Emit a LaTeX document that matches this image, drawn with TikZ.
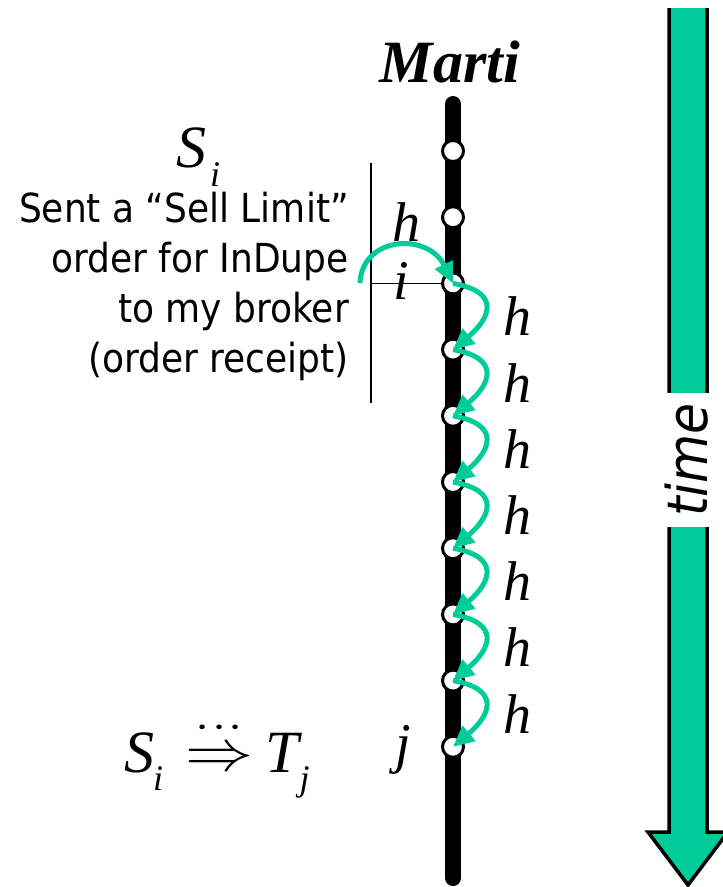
\documentclass[tikz,border=0pt]{standalone}
\usepackage{amsmath}
\usepackage{graphicx}
\usepackage{fontspec}
\usepackage{tikz}
\usetikzlibrary{positioning,arrows.meta,calc}
\newfontfamily\tnr{Liberation Serif}
\newfontfamily\tah{DejaVu Sans Condensed}
\definecolor{ink}   {HTML}{000000}
\definecolor{jade}  {HTML}{00CC99}
\newcommand\lowidx[2][0.3]{\raisebox{-#1em}{\fontsize{36}{36}\selectfont #2}}
\newcommand\leadsvia{\raisebox{0.02em}{\scalebox{6.8}[5.8]{\fontsize{10}{10}\selectfont$\overset{\cdots}{\Rightarrow}$}}}
\tikzset{
  % --- nodes
  evt/.style   = {circle, draw=ink, line width=3pt, fill=white, minimum size=21pt, inner sep=0pt},
  hlbl/.style  = {font=\fontsize{56}{56}\tnr\itshape, inner sep=0pt},
  note/.style  = {font=\fontsize{40}{50}\tah, align=right, inner sep=0pt},
  % --- edges
  life/.style  = {line width=16pt, draw=ink, line cap=round},
  hop/.style   = {-{Triangle[length=21pt,width=19pt]}, line width=5pt, draw=jade},
  tick/.style  = {line width=1.3pt, draw=ink},
}
\begin{document}
\begin{tikzpicture}[x=1pt,y=1pt]
  \useasboundingbox (0,0) rectangle (723,-887);

  % process line with its events
  \node[font=\fontsize{60}{60}\tnr\bfseries\itshape, inner sep=0pt] (who) at (450,-62) {Marti};
  \coordinate (ltop) at (453,-104);
  \coordinate (lbot) at (453,-878);
  \draw[life] (ltop) -- (lbot);
  \foreach \k in {0,...,9}
    \node[evt] (e\k) at (453,{-151-66.2*\k}) {};

  % receipt marker
  \coordinate (vtop) at (371,-163);
  \coordinate (vbot) at (371,-403);
  \draw[tick] (vtop) -- (vbot);
  \draw[tick] (e2.west -| vtop) -- (e2.west);
  \node[note, anchor=north east] (what) at (349,-192)
    {Sent a “Sell Limit”\\order for InDupe\\to my broker\\(order receipt)};
  \node[font=\fontsize{60}{60}\tnr\itshape, inner sep=0pt, anchor=base west] (si) at (176,-167)
    {S\kern4pt\lowidx[0.32]{i}};
  \node[hlbl] (hin) at (406,-222) {h};
  \node[hlbl] (li) at (401,-281) {i};
  \node[hlbl] (lj) at (403,-750) {j};

  % local steps
  \coordinate (src) at (360,-283);
  \draw[hop] (src) .. controls (362,-236) and (428,-232) .. (e2.center);
  \foreach \k [evaluate=\k as \n using int(\k+1)] in {2,...,8} {
    \draw[hop] (e\k.center) to[out=-10,in=40,looseness=1.9] (e\n.center);
    \node[hlbl] (h\k) at ($(e\k)!0.5!(e\n)+(64,0)$) {h};
  }

  % conclusion
  \node[font=\fontsize{60}{60}\tnr\itshape, inner sep=0pt, anchor=base west] (rel) at (124,-772)
    {S\kern-1pt\lowidx{i}\kern22pt\leadsvia\kern12pt T\kern1pt\lowidx{j}};

  % time arrow
  \path[fill=jade, draw=ink, line width=3.5pt, line join=miter]
    (669,-8) -- (669,-832) -- (648,-832) -- (688,-885) -- (728,-832)
    -- (707,-832) -- (707,-8);
  \node[fill=white, rotate=90, minimum width=134pt, minimum height=52pt,
        inner sep=0pt, font=\fontsize{56}{56}\tah\itshape] (tm) at (687,-460) {time};
\end{tikzpicture}
\end{document}
